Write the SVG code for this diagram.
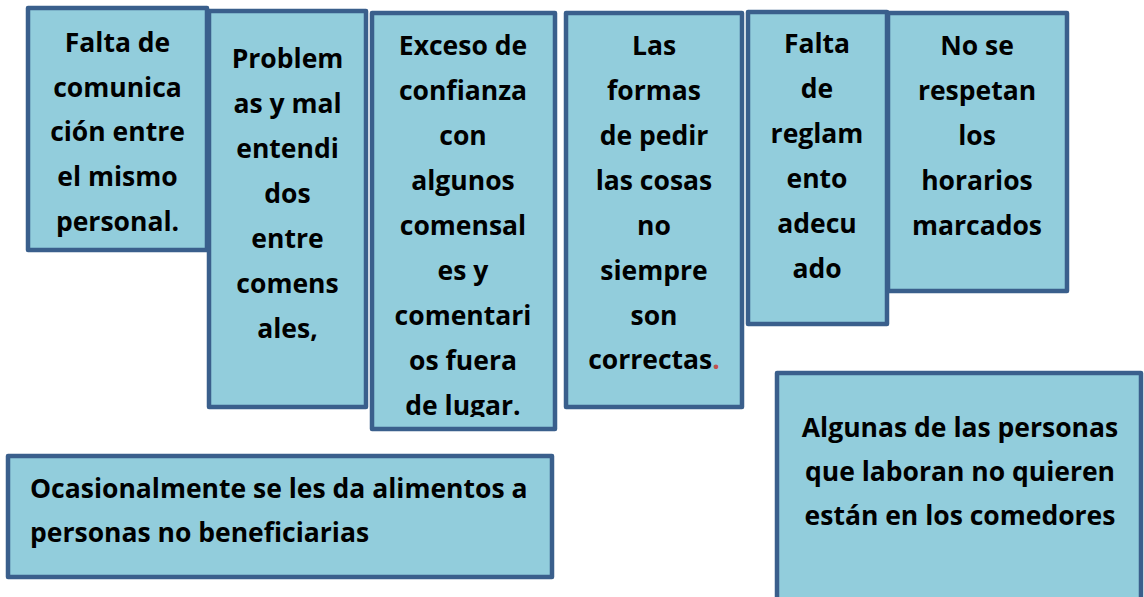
<svg xmlns="http://www.w3.org/2000/svg" width="1144" height="597" viewBox="0 0 1144 597">
<style>
.box{fill:#92CDDC;stroke:#3A5F8C;stroke-width:4.5;stroke-linejoin:round}
.t{font-family:"Open Sans",Lato,sans-serif;font-weight:bold;font-size:26.5px;fill:#000;font-variant-ligatures:none}
.c{text-anchor:middle}
</style>
<defs>
<clipPath id="clip3"><rect x="371" y="12" width="185" height="405"/></clipPath>
</defs>
<rect width="1144" height="597" fill="#fff"/>
<g id="n1">
<rect class="box" x="28" y="8" width="179" height="242"/>
<text class="t c" x="117.5"><tspan x="117.5" y="52">Falta de</tspan><tspan x="117.5" y="97">comunica</tspan><tspan x="117.5" y="141">ción entre</tspan><tspan x="117.5" y="186">el mismo</tspan><tspan x="117.5" y="231">personal.</tspan></text>
</g>
<g id="n2">
<rect class="box" x="209" y="11" width="157" height="396"/>
<text class="t c"><tspan x="287.5" y="68">Problem</tspan><tspan x="287.5" y="113">as y mal</tspan><tspan x="287.5" y="158">entendi</tspan><tspan x="287.5" y="203">dos</tspan><tspan x="287.5" y="248">entre</tspan><tspan x="287.5" y="293">comens</tspan><tspan x="287.5" y="338">ales,</tspan></text>
</g>
<g id="n3">
<rect class="box" x="372" y="13" width="183" height="416"/>
<text class="t c" clip-path="url(#clip3)"><tspan x="463" y="55">Exceso de</tspan><tspan x="463" y="100">confianza</tspan><tspan x="463" y="145">con</tspan><tspan x="463" y="190">algunos</tspan><tspan x="463" y="235">comensal</tspan><tspan x="463" y="280">es y</tspan><tspan x="463" y="325">comentari</tspan><tspan x="463" y="370">os fuera</tspan><tspan x="463" y="415">de lugar.</tspan></text>
</g>
<g id="n4">
<rect class="box" x="566" y="13" width="176" height="394"/>
<text class="t c"><tspan x="654" y="55">Las</tspan><tspan x="654" y="100">formas</tspan><tspan x="654" y="145">de pedir</tspan><tspan x="654" y="190">las cosas</tspan><tspan x="654" y="235">no</tspan><tspan x="654" y="280">siempre</tspan><tspan x="654" y="325">son</tspan><tspan x="654" y="369">correctas<tspan fill="#C0504D">.</tspan></tspan></text>
</g>
<g id="n5">
<rect class="box" x="748" y="12" width="139" height="312"/>
<text class="t c"><tspan x="817" y="53">Falta</tspan><tspan x="817" y="98">de</tspan><tspan x="817" y="143">reglam</tspan><tspan x="817" y="188">ento</tspan><tspan x="817" y="233">adecu</tspan><tspan x="817" y="278">ado</tspan></text>
</g>
<g id="n6">
<rect class="box" x="888" y="13" width="179" height="278"/>
<text class="t c"><tspan x="977" y="55">No se</tspan><tspan x="977" y="100">respetan</tspan><tspan x="977" y="145">los</tspan><tspan x="977" y="190">horarios</tspan><tspan x="977" y="235">marcados</tspan></text>
</g>
<g id="n7">
<rect class="box" x="8" y="456" width="544" height="121"/>
<text class="t"><tspan x="30" y="498">Ocasionalmente se les da alimentos a</tspan><tspan x="30" y="542">personas no beneficiarias</tspan></text>
</g>
<g id="n8">
<rect class="box" x="777" y="373" width="364" height="240"/>
<text class="t c"><tspan x="960" y="437">Algunas de las personas</tspan><tspan x="960" y="481">que laboran no quieren</tspan><tspan x="960" y="525">están en los comedores</tspan></text>
</g>
<g id="connectors"/>
</svg>
